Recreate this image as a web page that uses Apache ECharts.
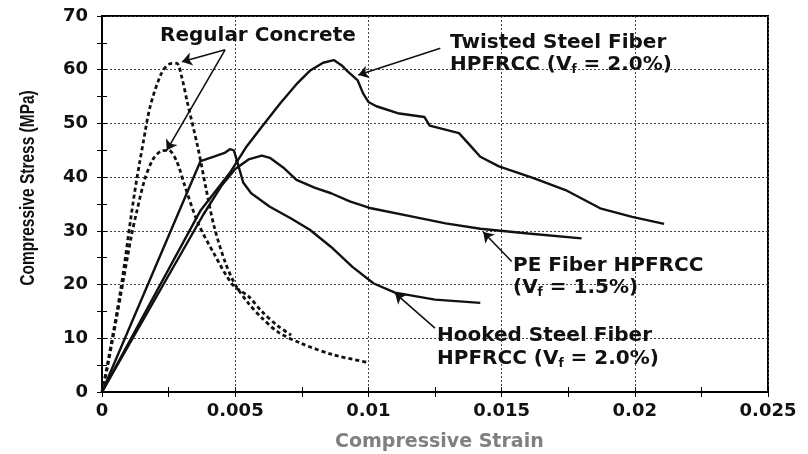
<!DOCTYPE html>
<html><head><meta charset="utf-8">
<script src="https://cdn.jsdelivr.net/npm/echarts@6/dist/echarts.min.js"></script>
<style>html,body{margin:0;padding:0;background:#fff}#c{width:808px;height:454px}</style>
</head><body><div id="c"></div>
<script>
// ---- data (strain, stress MPa) ----
const concreteHigh = [[0,0],[0.0002,5],[0.0007,19],[0.0011,33],[0.0013,39.5],[0.00155,46.5],[0.0018,53],[0.0022,59],[0.0025,61],[0.0028,61.2],[0.003,58.5],[0.0032,54],[0.0036,45.5],[0.0039,38],[0.0042,31],[0.0046,24.5],[0.005,20],[0.0055,16.5],[0.006,13.8],[0.0066,11.2],[0.0075,9],[0.0087,6.9],[0.01,5.5]];
const concreteLow = [[0,0],[0.0002,4.5],[0.0007,18],[0.0011,29],[0.0013,33.5],[0.0016,39.5],[0.0019,43.2],[0.0022,44.8],[0.0025,45],[0.0028,43],[0.0031,38.5],[0.0036,31.5],[0.0042,25.8],[0.0049,20],[0.0055,17.8],[0.006,15],[0.0066,12.3],[0.0071,10.6]];
const twisted = [[0,0],[0.0037,33.8],[0.0048,40.8],[0.0054,45.5],[0.006,49.4],[0.0067,53.8],[0.0073,57.3],[0.0078,59.8],[0.0083,61.3],[0.0087,61.8],[0.009,60.8],[0.0092,59.8],[0.0096,58],[0.0098,55.6],[0.01,54],[0.0103,53.2],[0.0111,51.9],[0.0121,51.2],[0.0123,49.6],[0.0134,48.2],[0.0138,46],[0.0142,43.8],[0.0149,42],[0.0162,39.8],[0.0174,37.6],[0.0187,34.2],[0.0199,32.6],[0.0211,31.3]];
const peFiber = [[0,0],[0.0038,33],[0.0045,38.5],[0.005,41.5],[0.0055,43.3],[0.006,44],[0.0063,43.6],[0.0068,41.8],[0.0073,39.5],[0.008,38],[0.0086,37],[0.0093,35.5],[0.0101,34.2],[0.0117,32.6],[0.0129,31.4],[0.0142,30.4],[0.016,29.5],[0.018,28.6]];
const hooked = [[0,0],[0.0037,43],[0.0042,43.8],[0.0046,44.5],[0.0048,45.2],[0.00495,45],[0.0051,42.5],[0.0053,39],[0.0056,37],[0.0063,34.5],[0.0071,32.3],[0.0078,30.2],[0.0086,27],[0.0094,23.3],[0.0102,20.2],[0.011,18.5],[0.0125,17.2],[0.0142,16.6]];
// arrows: [from, to] in data coordinates
const arrows = [
  [[0.00462,63.7],[0.0030,61.5]],
  [[0.00462,63.7],[0.00243,45]],
  [[0.0127,64],[0.00962,59]],
  [[0.01538,24.3],[0.01431,29.8]],
  [[0.0125,11.9],[0.011,18.4]]
];
const xMin = 0, xMax = 0.025, xStep = 0.005;
const yMin = 0, yMax = 70, yStep = 10;

const chart = echarts.init(document.getElementById('c'));
const F = 'DejaVu Sans';
const splitLine = {show:true, lineStyle:{color:'#444', type:[2,2], width:1}};
function solid(data){return {type:'line', data, symbol:'none', lineStyle:{color:'#111', width:2.4}, z:3};}
function dashed(data){return {type:'line', data, symbol:'none', smooth:0.3, lineStyle:{color:'#111', width:2.8, type:[4,3]}, z:3};}
function label(x, y, text){
  return {type:'text', left:x, top:y, z:10, style:{text, font:'bold 20px "DejaVu Sans"', fill:'#111', rich:{sub:{font:'bold 12px "DejaVu Sans"', fill:'#111', padding:[9,0,0,0]}}}};
}
chart.setOption({
  animation:false,
  backgroundColor:'#fff',
  grid:{left:102, right:40, top:16, bottom:62, show:true, borderColor:'#000', borderWidth:2},
  xAxis:[
    {type:'value', min:xMin, max:xMax, interval:xStep, position:'bottom',
     axisLine:{show:true, lineStyle:{color:'#000', width:2}},
     axisTick:{show:true, inside:true, length:5, lineStyle:{color:'#000'}},
     minorTick:{show:true, splitNumber:2, length:5, lineStyle:{color:'#000'}},
     axisLabel:{fontFamily:F, fontWeight:'bold', fontSize:18, color:'#111', margin:10,
       formatter:v=>v===0?'0':String(+v.toFixed(3))},
     splitLine},
    {type:'value', min:xMin, max:xMax, interval:xStep, position:'top',
     axisLine:{show:true, lineStyle:{color:'#000', width:2}},
     axisTick:{show:true, inside:true, length:5, lineStyle:{color:'#000'}},
     minorTick:{show:true, splitNumber:2, length:5, lineStyle:{color:'#000'}},
     axisLabel:{show:false}, splitLine:{show:false}}
  ],
  yAxis:[
    {type:'value', min:yMin, max:yMax, interval:yStep, position:'left',
     axisLine:{show:true, lineStyle:{color:'#000', width:2}},
     axisTick:{show:true, inside:true, length:5, lineStyle:{color:'#000'}},
     minorTick:{show:true, splitNumber:2, length:5, lineStyle:{color:'#000'}},
     axisLabel:{fontFamily:F, fontWeight:'bold', fontSize:18, color:'#111', margin:14},
     splitLine},
    {type:'value', min:yMin, max:yMax, interval:yStep, position:'right',
     axisLine:{show:true, lineStyle:{color:'#000', width:2}},
     axisTick:{show:true, inside:true, length:5, lineStyle:{color:'#000'}},
     minorTick:{show:true, splitNumber:2, length:5, lineStyle:{color:'#000'}},
     axisLabel:{show:false}, splitLine:{show:false}}
  ],
  series:[
    dashed(concreteHigh),
    dashed(concreteLow),
    Object.assign(solid(twisted), {markLine:{silent:true, symbol:['none','arrow'], symbolSize:10,
      label:{show:false}, lineStyle:{color:'#111', width:1.6, type:'solid'},
      emphasis:{disabled:true},
      data: arrows.map(a=>[{coord:a[0]},{coord:a[1]}])}}),
    solid(peFiber),
    solid(hooked)
  ],
  graphic:[
    label(160, 26, 'Regular Concrete'),
    label(450, 33, 'Twisted Steel Fiber'),
    label(450, 55, 'HPFRCC (V{sub|f} = 2.0%)'),
    label(513, 256, 'PE Fiber HPFRCC'),
    label(513, 278, '(V{sub|f} = 1.5%)'),
    label(437, 326, 'Hooked Steel Fiber'),
    label(437, 349, 'HPFRCC (V{sub|f} = 2.0%)'),
    {type:'text', left:335, top:433, style:{text:'Compressive Strain', font:'bold 19px "DejaVu Sans"', fill:'#808080'}},
    {type:'text', x:28, y:188, rotation:Math.PI/2, scaleY:1.35, style:{text:'Compressive Stress (MPa)', font:'bold 15.5px "Liberation Sans"', fill:'#111', align:'center', verticalAlign:'middle'}}
  ]
});
</script></body></html>
